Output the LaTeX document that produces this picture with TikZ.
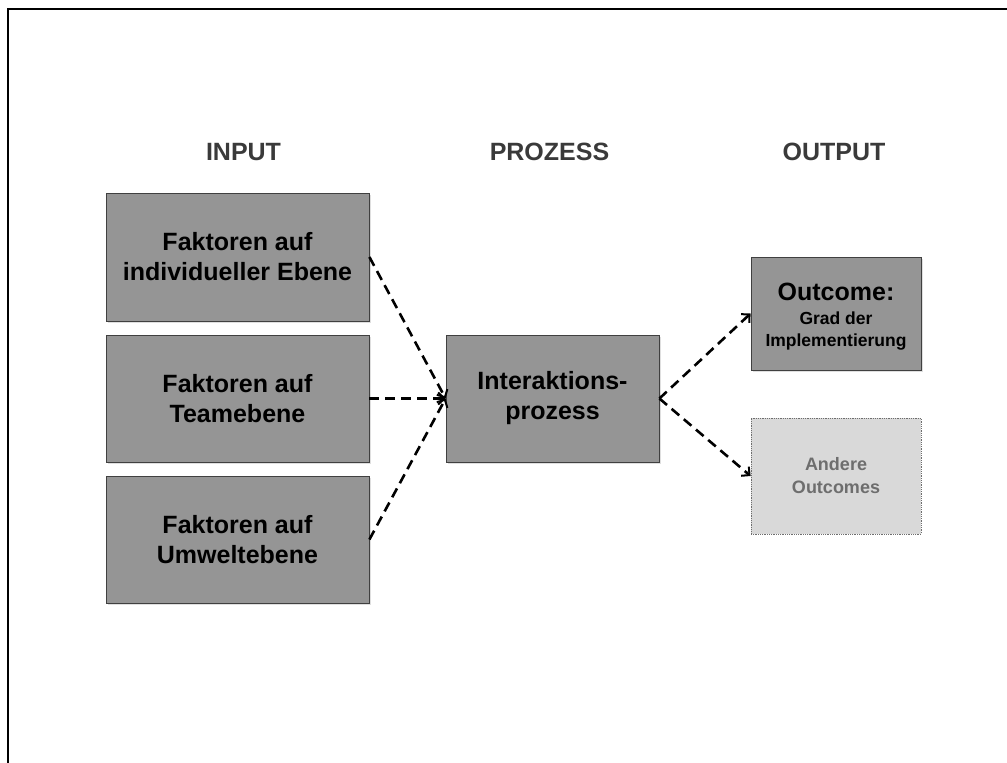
\documentclass[tikz,border=0pt]{standalone}
\usepackage{fontspec}
\setmainfont{Liberation Sans}
\usetikzlibrary{arrows.meta,shadows}
\definecolor{boxgray}{HTML}{959595}
\definecolor{palegray}{HTML}{D9D9D9}
\definecolor{headgray}{HTML}{3A3A3A}
\definecolor{softtext}{HTML}{6E6E6E}
\tikzset{
  heading/.style={font=\bfseries\fontsize{25}{30}\selectfont, text=headgray},
  factorbox/.style={draw=black!75, line width=0.8pt, fill=boxgray, align=center,
    font=\bfseries\fontsize{25}{30}\selectfont,
    drop shadow={shadow xshift=2pt, shadow yshift=-2pt, opacity=0.25}},
  otherbox/.style={draw=softtext, densely dotted, line width=0.8pt, fill=palegray,
    align=center, text=softtext, font=\bfseries\fontsize{18}{23}\selectfont},
  flow/.style={line width=2.6pt, dash pattern=on 10pt off 6pt,
    -{Straight Barb[length=6pt, width=12pt, line width=2pt]}},
  frameline/.style={line width=2.2pt, black}
}
\begin{document}
\begin{tikzpicture}[x=1pt, y=-1pt]
  \useasboundingbox (0,0) rectangle (1007,763);
  % page frame (top and left edges)
  \coordinate (fbl) at (8,763);
  \coordinate (ftl) at (8,9);
  \coordinate (ftr) at (1007,9);
  \draw[frameline] (fbl) -- (ftl) -- (ftr);

  % column headings
  \node[heading] (hin)  at (243.5,152) {INPUT};
  \node[heading] (hpro) at (549.5,152) {PROZESS};
  \node[heading] (hout) at (834,152)   {OUTPUT};

  % input factors
  \node[factorbox, minimum width=263pt, minimum height=128pt] (ind) at (237.5,257)
    {Faktoren auf\\individueller Ebene};
  \node[factorbox, minimum width=263pt, minimum height=127pt] (team) at (237.5,398.5)
    {Faktoren auf\\Teamebene};
  \node[factorbox, minimum width=263pt, minimum height=127pt] (umw) at (237.5,539.5)
    {Faktoren auf\\Umweltebene};

  % process
  \node[factorbox, minimum width=213pt, minimum height=127pt] (proz) at (552.5,398.5)
    {Interaktions-\\prozess};

  % outcomes: box and its caption
  \node[factorbox, minimum width=170pt, minimum height=113pt] (outc) at (836,313.5) {};
  \node[align=center, font=\bfseries\fontsize{17.5}{22}\selectfont]
    (outctext) at ([yshift=-3pt]outc.center)
    {{\fontsize{25}{28}\selectfont Outcome:}\\[2pt]
     Grad der\\
     Implementierung};
  \node[otherbox, minimum width=170pt, minimum height=116pt] (andere) at (836,476)
    {Andere\\Outcomes};

  % connectors
  \draw[flow] (ind.east)  -- (proz.west);
  \draw[flow] (team.east) -- (proz.west);
  \draw[flow] (umw.east)  -- (proz.west);
  \draw[flow] (proz.east) -- (outc.west);
  \draw[flow] (proz.east) -- (andere.west);
\end{tikzpicture}
\end{document}
